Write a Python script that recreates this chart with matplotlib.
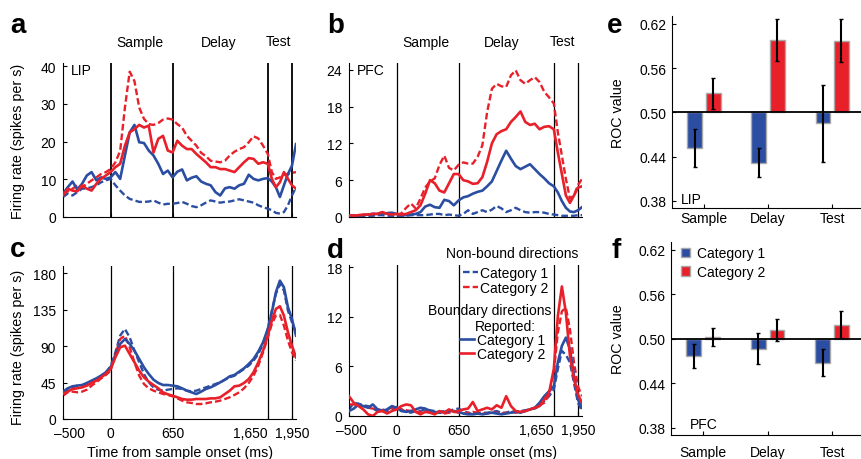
import numpy as np
import matplotlib.pyplot as plt
from matplotlib.transforms import ScaledTranslation

plt.rcParams['font.family'] = ['Liberation Sans', 'DejaVu Sans']

BLUE = '#2b4ea2'
RED = '#e8202a'
DASH = (0, (2.8, 1.3))

# time grid (ms from sample onset), 50 ms bins
t = np.arange(-500, 2001, 50)
events = [0, 650, 1650, 1950]
xtick_pos = [-500, 0, 650, 1650, 1950]
xtick_lab = ['\u2013500', '0', '650', '1,650', '1,950']

# ---- a: LIP ----
lip_nb1 = [5.3, 6.2, 5.7, 6.6, 7.5, 7.6, 7.9, 8.4, 9.2, 9.7,
           10.1, 8.4, 7.0, 5.7, 4.8, 4.4, 4.0, 4.0, 4.1, 4.4,
           3.8, 3.3, 3.5, 3.5, 3.7, 4.0, 3.5, 2.9, 2.6, 3.1,
           3.8, 4.4, 4.1, 3.8, 4.0, 4.1, 4.4, 4.7, 4.4, 4.1,
           3.8, 3.1, 2.6, 2.2, 1.8, 1.1, 0.9, 1.3, 3.1, 5.7, 7.9]
lip_nb2 = [6.2, 6.8, 7.5, 8.4, 7.9, 8.8, 9.7, 10.5, 11.4, 11.9,
           12.7, 14.5, 17.5, 29.0, 38.5, 36.0, 29.0, 26.0, 24.6, 24.4,
           24.9, 25.8, 26.1, 25.8, 24.6, 23.7, 21.5, 20.2, 18.9, 17.0,
           16.1, 14.9, 14.7, 14.5, 14.9, 16.3, 17.3, 18.0, 18.5, 19.8,
           21.4, 20.8, 18.9, 16.7, 11.9, 10.1, 10.5, 11.2, 11.4, 11.7, 11.9]
lip_bd1 = [6.2, 7.9, 9.4, 7.3, 8.8, 11.0, 11.9, 9.7, 10.5, 10.1,
           10.5, 11.9, 10.1, 16.3, 22.4, 24.4, 19.8, 19.6, 17.6, 16.3,
           14.1, 11.4, 12.3, 10.5, 12.0, 12.6, 9.7, 10.4, 10.8, 9.4,
           8.8, 8.4, 6.6, 5.7, 7.6, 7.9, 7.5, 8.4, 8.8, 11.2,
           10.1, 9.7, 10.1, 10.3, 9.4, 7.9, 5.3, 8.4, 11.4, 13.6, 19.3]
lip_bd2 = [5.7, 7.5, 7.0, 6.8, 8.4, 7.5, 7.0, 8.8, 10.1, 11.0,
           11.9, 13.2, 14.1, 18.9, 22.4, 23.3, 24.4, 23.7, 24.2, 17.1,
           20.7, 21.5, 17.6, 17.1, 20.2, 18.9, 18.0, 18.0, 16.7, 15.6,
           14.5, 13.2, 13.2, 12.7, 12.7, 12.3, 11.9, 13.2, 14.5, 15.6,
           15.4, 14.1, 14.5, 14.1, 10.1, 7.9, 9.2, 11.9, 10.1, 8.4, 7.5]

# ---- b: PFC ----
pfc_nb1 = [0.2, 0.2, 0.2, 0.2, 0.2, 0.2, 0.3, 0.3, 0.2, 0.2,
           0.2, 0.2, 0.2, 0.3, 0.3, 0.3, 0.3, 0.4, 0.5, 0.5,
           0.3, 0.4, 0.3, 0.2, 0.5, 1.1, 0.5, 0.8, 1.1, 0.8,
           1.2, 1.8, 1.4, 0.8, 1.1, 1.5, 1.1, 0.8, 0.7, 0.8,
           0.8, 0.7, 0.5, 0.4, 0.3, 0.2, 0.2, 0.2, 0.2, 0.3, 0.3]
pfc_nb2 = [0.2, 0.2, 0.2, 0.3, 0.4, 0.5, 0.6, 0.7, 0.7, 0.6,
           0.3, 0.6, 1.5, 2.2, 1.4, 3.0, 4.8, 5.8, 6.3, 8.5,
           10.0, 8.0, 7.6, 8.5, 8.9, 8.7, 8.7, 9.8, 11.7, 17.1,
           20.9, 21.7, 21.3, 21.2, 23.1, 23.9, 22.3, 21.7, 22.3, 22.8,
           22.0, 20.4, 19.5, 18.5, 13.8, 10.0, 6.2, 3.0, 3.5, 5.2, 6.2]
pfc_bd1 = [0.1, 0.2, 0.2, 0.3, 0.4, 0.5, 0.5, 0.6, 0.6, 0.7,
           0.5, 0.3, 0.3, 0.4, 0.5, 0.8, 1.7, 2.0, 1.6, 1.5,
           2.8, 2.6, 1.9, 2.7, 3.2, 3.4, 3.8, 4.1, 4.3, 5.0,
           5.8, 7.5, 9.2, 10.8, 9.5, 8.3, 7.8, 8.2, 8.6, 7.8,
           7.0, 6.3, 5.5, 5.0, 4.0, 2.6, 1.5, 0.9, 0.8, 1.1, 1.6]
pfc_bd2 = [0.3, 0.2, 0.3, 0.4, 0.4, 0.5, 0.5, 0.8, 0.5, 0.4,
           0.5, 0.4, 0.5, 0.8, 1.1, 1.9, 3.8, 6.0, 5.5, 4.3,
           4.0, 5.5, 7.0, 7.0, 6.0, 5.8, 5.4, 5.5, 6.5, 9.0,
           12.0, 13.5, 14.0, 14.3, 15.5, 16.3, 17.2, 15.5, 15.0, 15.2,
           14.3, 14.7, 14.8, 14.3, 10.5, 7.0, 3.5, 2.3, 3.5, 4.8, 5.0]

# ---- c: LIP, saccade-aligned task ----
lipc_nb1 = [33.0, 36.2, 39.1, 41.2, 41.2, 43.2, 46.1, 49.4, 53.5, 57.7,
            65.1, 82.4, 103.0, 111.2, 100.9, 84.4, 70.0, 55.6, 45.3, 39.1,
            36.2, 35.0, 36.2, 37.1, 37.9, 37.1, 35.0, 34.2, 35.0, 37.1,
            39.1, 41.2, 43.2, 45.3, 48.6, 51.5, 53.5, 57.7, 61.8, 65.9,
            72.1, 80.3, 92.7, 111.2, 133.9, 154.4, 166.8, 158.6, 133.9, 119.4, 107.1]
lipc_nb2 = [28.8, 33.0, 33.8, 33.0, 33.8, 36.2, 41.2, 45.3, 50.2, 54.4,
            59.7, 80.3, 98.8, 103.0, 88.6, 70.0, 53.5, 43.2, 37.9, 35.0,
            33.0, 30.9, 29.7, 28.0, 25.5, 22.7, 20.6, 19.8, 18.5, 18.5,
            19.4, 20.6, 21.4, 22.7, 24.7, 26.8, 29.7, 33.0, 37.9, 44.5,
            53.5, 65.9, 82.4, 100.9, 117.4, 127.7, 128.5, 115.3, 96.8, 82.4, 72.1]
lipc_bd1 = [33.8, 37.9, 40.4, 41.2, 42.0, 44.5, 47.4, 50.2, 53.5, 57.7,
            63.8, 78.3, 92.7, 98.8, 92.7, 84.4, 74.1, 63.8, 55.6, 48.6,
            44.5, 42.0, 42.0, 41.2, 40.4, 37.9, 35.0, 32.9, 30.9, 33.8,
            37.1, 39.1, 42.0, 45.3, 48.6, 52.7, 54.4, 58.5, 62.6, 68.0,
            74.1, 83.2, 94.7, 111.2, 131.8, 156.5, 170.9, 162.7, 138.0, 123.6, 103.0]
lipc_bd2 = [30.9, 33.8, 37.1, 37.9, 39.1, 41.2, 44.5, 47.4, 51.5, 55.6,
            61.8, 76.2, 88.6, 90.6, 80.3, 70.0, 59.7, 51.5, 46.1, 42.0,
            37.9, 32.9, 30.5, 28.8, 26.8, 24.7, 23.9, 23.9, 24.7, 24.7,
            24.7, 25.5, 25.5, 26.8, 30.9, 35.0, 40.4, 41.2, 44.5, 49.4,
            57.7, 70.0, 84.4, 103.0, 121.5, 135.9, 139.2, 127.7, 107.1, 90.6, 76.2]

# ---- d: PFC, saccade-aligned task ----
pfcd_nb1 = [0.8, 1.6, 1.5, 1.3, 1.2, 0.9, 0.6, 0.8, 0.6, 0.8,
            1.1, 0.8, 0.5, 0.4, 0.6, 0.6, 0.8, 0.7, 0.6, 0.5,
            0.6, 0.6, 0.8, 0.9, 0.6, 0.4, 0.2, 0.3, 0.4, 0.4,
            0.5, 0.6, 0.4, 0.4, 0.6, 0.5, 0.6, 0.7, 0.8, 0.9,
            1.2, 1.8, 2.4, 3.2, 5.7, 7.9, 7.4, 6.5, 4.0, 1.6, 0.6]
pfcd_nb2 = [1.4, 1.4, 1.3, 1.2, 1.0, 0.9, 0.8, 0.7, 0.8, 1.0,
            1.0, 0.8, 0.7, 0.6, 0.5, 0.5, 0.6, 0.5, 0.4, 0.4,
            0.3, 0.4, 0.5, 0.4, 0.3, 0.4, 0.5, 0.4, 0.3, 0.3,
            0.4, 0.4, 0.3, 0.4, 0.5, 0.4, 0.5, 0.6, 0.8, 1.0,
            1.3, 1.6, 2.6, 5.3, 10.1, 12.7, 13.1, 10.5, 6.5, 3.6, 2.4]
pfcd_bd1 = [0.6, 0.9, 1.4, 1.2, 1.0, 1.4, 0.8, 0.6, 0.8, 1.2,
            1.0, 0.6, 0.5, 0.6, 0.8, 1.0, 0.9, 0.6, 0.5, 0.4,
            0.5, 0.6, 0.6, 0.5, 0.3, 0.2, 0.2, 0.3, 0.2, 0.3,
            0.4, 0.3, 0.2, 0.3, 0.4, 0.5, 0.4, 0.6, 0.8, 1.0,
            1.6, 2.4, 3.0, 3.6, 6.5, 8.5, 9.5, 8.1, 4.9, 2.0, 1.0]
pfcd_bd2 = [2.4, 1.6, 1.2, 0.8, 0.2, 0.0, 0.5, 0.6, 0.3, 0.6,
            0.8, 1.2, 1.4, 1.3, 0.5, 0.2, 0.5, 0.4, 0.2, 0.6,
            0.4, 0.8, 0.5, 0.6, 0.8, 0.9, 1.7, 0.6, 0.8, 1.0,
            0.8, 1.3, 1.0, 2.4, 1.2, 0.6, 0.5, 0.6, 0.8, 1.0,
            1.2, 2.0, 2.8, 5.7, 12.1, 15.7, 12.5, 7.3, 4.5, 2.6, 1.6]

# ---- e/f: ROC values ----
periods = ['Sample', 'Delay', 'Test']
lip_roc_cat1 = [0.452, 0.432, 0.485]
lip_roc_cat1_err = [0.026, 0.020, 0.052]
lip_roc_cat2 = [0.526, 0.598, 0.597]
lip_roc_cat2_err = [0.021, 0.028, 0.029]
pfc_roc_cat1 = [0.477, 0.487, 0.468]
pfc_roc_cat1_err = [0.016, 0.021, 0.018]
pfc_roc_cat2 = [0.502, 0.512, 0.519]
pfc_roc_cat2_err = [0.012, 0.015, 0.018]

W, H = 861, 460
fig = plt.figure(figsize=(W / 100, H / 100), dpi=100)


def box(l, top, r, b):
    return [l / W, 1 - b / H, (r - l) / W, (b - top) / H]


def px(x, y):
    return x / W, 1 - y / H


# last stretch of the time axis is drawn a bit compressed in the original
def fwd(x):
    x = np.asarray(x, dtype=float)
    return np.where(x > 1650, 1650 + (x - 1650) * 0.845, x)


def inv(u):
    u = np.asarray(u, dtype=float)
    return np.where(u > 1650, 1650 + (u - 1650) / 0.845, u)


def style(ax):
    for s in ['top', 'right']:
        ax.spines[s].set_visible(False)
    for s in ['left', 'bottom']:
        ax.spines[s].set_linewidth(0.8)
    ax.tick_params(direction='in', length=3, width=0.8, labelsize=10)


def trace_panel(ax, nb1, nb2, bd1, bd2, ymax, yticks, vlw, first_shift=None):
    ax.set_xscale('function', functions=(fwd, inv))
    for ev in events:
        ax.axvline(ev, color='k', lw=vlw, zorder=1)
    h1, = ax.plot(t, nb1, color=BLUE, ls=DASH, lw=1.7, zorder=2)
    h2, = ax.plot(t, nb2, color=RED, ls=DASH, lw=1.7, zorder=2)
    h3, = ax.plot(t, bd1, color=BLUE, lw=1.9, zorder=3)
    h4, = ax.plot(t, bd2, color=RED, lw=1.9, zorder=3)
    ax.set_xlim(-500, 2000)
    ax.set_ylim(0, ymax)
    ax.set_yticks(yticks)
    ax.set_xticks(xtick_pos)
    style(ax)
    ax.tick_params(axis='y', pad=5)
    if first_shift is not None:
        ax.set_xticklabels(xtick_lab)
        ax.tick_params(axis='x', pad=5)
        labs = ax.get_xticklabels()
        labs[3].set_horizontalalignment('right')
        labs[0].set_transform(labs[0].get_transform() +
                              ScaledTranslation(first_shift / 100, 0, fig.dpi_scale_trans))
    else:
        ax.set_xticklabels([])
    return h1, h2, h3, h4


def roc_panel(ax, c1, e1, c2, e2, xpad):
    x = np.arange(len(periods))
    ax.bar(x - 0.145, np.array(c1) - 0.5, bottom=0.5, width=0.23, color=BLUE,
           edgecolor='#a8a8a8', lw=1, zorder=2, label='Category 1')
    ax.bar(x + 0.145, np.array(c2) - 0.5, bottom=0.5, width=0.23, color=RED,
           edgecolor='#a8a8a8', lw=1, zorder=2, label='Category 2')
    ax.errorbar(x - 0.145, c1, yerr=e1, fmt='none', ecolor='k', elinewidth=1.5,
                capsize=1.5, capthick=1, zorder=3)
    ax.errorbar(x + 0.145, c2, yerr=e2, fmt='none', ecolor='k', elinewidth=1.5,
                capsize=1.5, capthick=1, zorder=3)
    ax.axhline(0.5, color='k', lw=1.3, zorder=4)
    ax.set_xlim(-0.5, 2.45)
    ax.set_ylim(0.3705, 0.6305)
    ax.set_yticks([0.38, 0.44, 0.50, 0.56, 0.62])
    ax.set_yticklabels(['0.38', '0.44', '0.50', '0.56', '0.62'])
    ax.set_xticks(x)
    ax.set_xticklabels(periods)
    style(ax)
    ax.tick_params(axis='y', pad=4)
    ax.tick_params(axis='x', pad=xpad)


ax_a = fig.add_axes(box(63, 64, 296, 218))
ax_b = fig.add_axes(box(349, 64, 582, 218))
ax_c = fig.add_axes(box(63, 267, 296, 420))
ax_d = fig.add_axes(box(349, 266, 582, 417))
ax_e = fig.add_axes(box(672, 17, 861, 209))
ax_f = fig.add_axes(box(671, 243, 861, 436))

trace_panel(ax_a, lip_nb1, lip_nb2, lip_bd1, lip_bd2, 40.8, [0, 10, 20, 30, 40], 1.3)
trace_panel(ax_b, pfc_nb1, pfc_nb2, pfc_bd1, pfc_bd2, 25.1, [0, 6, 12, 18, 24], 0.9)
trace_panel(ax_c, lipc_nb1, lipc_nb2, lipc_bd1, lipc_bd2, 189, [0, 45, 90, 135, 180], 0.9,
            first_shift=7)
hd = trace_panel(ax_d, pfcd_nb1, pfcd_nb2, pfcd_bd1, pfcd_bd2, 18.3, [0, 6, 12, 18], 0.9,
                 first_shift=3)

roc_panel(ax_e, lip_roc_cat1, lip_roc_cat1_err, lip_roc_cat2, lip_roc_cat2_err, 2)
roc_panel(ax_f, pfc_roc_cat1, pfc_roc_cat1_err, pfc_roc_cat2, pfc_roc_cat2_err, 7)

# legend of panel d
leg1 = ax_d.legend(hd[:2], ['Category 1', 'Category 2'], loc='center left',
                   bbox_to_anchor=px(463, 281.5), bbox_transform=fig.transFigure,
                   frameon=False, fontsize=10, handlelength=1.05, handletextpad=0.2,
                   borderpad=0, borderaxespad=0, labelspacing=0.1)
ax_d.add_artist(leg1)
ax_d.legend(hd[2:], ['Category 1', 'Category 2'], loc='center left',
            bbox_to_anchor=px(460, 348), bbox_transform=fig.transFigure,
            frameon=False, fontsize=10, handlelength=1.0, handletextpad=0.2,
            borderpad=0, borderaxespad=0, labelspacing=0.05)
fig.text(*px(512, 254), 'Non-bound directions', ha='center', va='center', fontsize=10)
fig.text(*px(490, 311), 'Boundary directions', ha='center', va='center', fontsize=10)
fig.text(*px(505, 327), 'Reported:', ha='center', va='center', fontsize=10)

# legend of panel f
ax_f.legend(loc='center left', bbox_to_anchor=px(681, 263.5), bbox_transform=fig.transFigure,
            frameon=False, fontsize=10, handlelength=0.65, handleheight=0.65,
            handletextpad=0.5, borderpad=0, borderaxespad=0, labelspacing=0.35)

# texts
for x, s in [(140, 'Sample'), (219, 'Delay'), (278, 'Test'),
             (426, 'Sample'), (502, 'Delay'), (563, 'Test')]:
    fig.text(*px(x, 46.5), s, ha='center', va='baseline', fontsize=10)

for x, y, s in [(71, 71, 'LIP'), (357, 71, 'PFC'), (681, 200, 'LIP'), (690, 425, 'PFC')]:
    fig.text(*px(x, y), s, ha='left', va='center', fontsize=10)

for y in [141, 347]:
    fig.text(*px(18, y), 'Firing rate (spikes per s)', rotation=90,
             ha='center', va='center', fontsize=10.3)
for y in [113, 339]:
    fig.text(*px(618, y), 'ROC value', rotation=90, ha='center', va='center', fontsize=10.3)
for x in [180, 464]:
    fig.text(*px(x, 453), 'Time from sample onset (ms)', ha='center', va='center', fontsize=10.3)

for x, y, s in [(10, 33, 'a'), (327, 33, 'b'), (10, 257, 'c'),
                (327, 258, 'd'), (607, 33, 'e'), (611, 258, 'f')]:
    fig.text(*px(x, y), s, ha='left', va='baseline', fontsize=20, fontweight='bold')

fig.savefig('out.png', dpi=100)
